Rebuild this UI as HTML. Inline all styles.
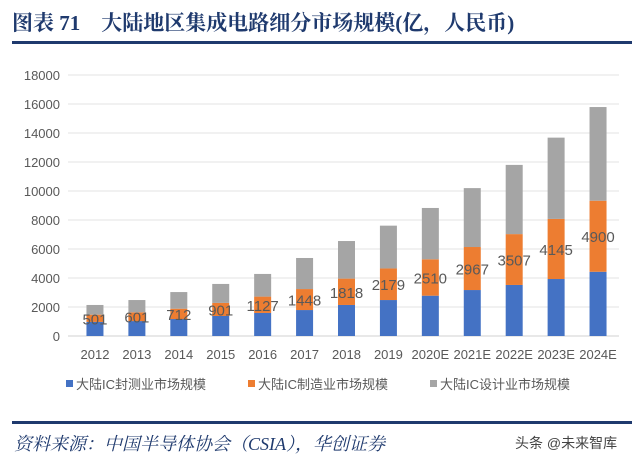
<!DOCTYPE html>
<html><head><meta charset="utf-8"><style>
body{margin:0;width:640px;height:463px;background:#fff;overflow:hidden;font-family:"Liberation Sans","Noto Sans CJK SC",sans-serif}
</style></head><body>
<svg width="640" height="463" xmlns="http://www.w3.org/2000/svg">
<text x="12" y="30" font-family="'Liberation Serif','Noto Serif CJK SC',serif" font-weight="bold" font-size="21" fill="#1f3a6e">图表 71　大陆地区集成电路细分市场规模(亿，人民币)</text>
<rect x="12" y="41" width="620" height="3" fill="#1f3a6e"/>
<g id="plot"></g>
<g font-size="13" fill="#595959">
<rect x="66" y="380" width="7" height="7" fill="#4472c4"/><text x="76" y="389">大陆IC封测业市场规模</text>
<rect x="248" y="380" width="7" height="7" fill="#ed7d31"/><text x="258" y="389">大陆IC制造业市场规模</text>
<rect x="430" y="380" width="7" height="7" fill="#a5a5a5"/><text x="440" y="389">大陆IC设计业市场规模</text>
</g>
<rect x="12" y="421" width="620" height="3" fill="#1f3a6e"/>
<text x="14" y="450" font-family="'Liberation Serif','Noto Serif CJK SC',serif" font-style="italic" font-size="18" fill="#1f3a6e">资料来源：中国半导体协会（CSIA），华创证券</text>
<text x="515" y="448" font-size="14" fill="#444">头条 @未来智库</text>
</svg>
<script>
const categories=["2012","2013","2014","2015","2016","2017","2018","2019","2020E","2021E","2022E","2023E","2024E"];
const packaging=[970,1030,1170,1380,1590,1790,2140,2480,2780,3170,3520,3930,4430];
const manufacturing=[501,601,712,901,1127,1448,1818,2179,2510,2967,3507,4145,4900];
const totals=[2140,2480,3030,3590,4280,5380,6550,7610,8830,10200,11800,13680,15790];
const design=totals.map((t,i)=>t-packaging[i]-manufacturing[i]);
const yTicks=[0,2000,4000,6000,8000,10000,12000,14000,16000,18000];
const ns="http://www.w3.org/2000/svg",g=document.getElementById("plot");
const X0=74,X1=619,Y0=336,Y1=75,YMAX=18000;
const y=v=>Y0-(v/YMAX)*(Y0-Y1);
const band=(X1-X0)/categories.length;
const xc=i=>X0+band*(i+0.5);
function mk(t,a){const e=document.createElementNS(ns,t);for(const k in a)e.setAttribute(k,a[k]);g.appendChild(e);return e;}
yTicks.forEach(v=>{
 const l=mk("line",{x1:68,x2:X1,y1:y(v),y2:y(v),stroke:v===0?"#d0d0d0":"#e3e3e3","stroke-width":1});
 
 
 const t=mk("text",{x:60,y:y(v)+5,"text-anchor":"end","font-size":13,fill:"#595959"});t.textContent=v;
 
 
});
const bw=17;
categories.forEach((c,i)=>{
 const segs=[[0,packaging[i],"#4472c4","bar-packaging"],[packaging[i],packaging[i]+manufacturing[i],"#ed7d31","bar-manufacturing"],[packaging[i]+manufacturing[i],packaging[i]+manufacturing[i]+design[i],"#a5a5a5","bar-design"]];
 segs.forEach(s=>{
  const r=mk("rect",{x:xc(i)-bw/2,y:y(s[1]),width:bw,height:y(s[0])-y(s[1]),fill:s[2]});
  
  
 });
 const mid=(packaging[i]+packaging[i]+manufacturing[i])/2;
 const lb=mk("text",{x:xc(i),y:y(mid)+6,"text-anchor":"middle","font-size":15,fill:"#595959"});lb.textContent=manufacturing[i];
 
 
 const t=mk("text",{x:xc(i),y:359,"text-anchor":"middle","font-size":13,fill:"#595959"});t.textContent=c;
 
 
});
</script>
</body></html>
